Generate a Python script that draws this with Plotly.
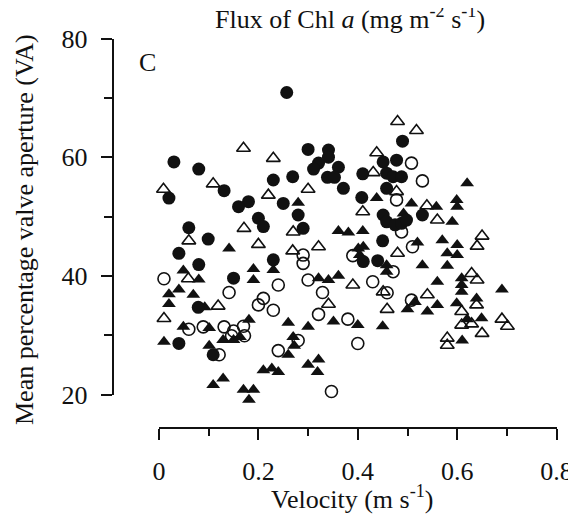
"""Mean valve aperture against velocity, panel C (flux of Chl a)."""
import plotly.graph_objects as go

FONT = 'Liberation Serif'
INK = '#111111'

# filled circles
filled_circle_x = [0.257, 0.030, 0.080, 0.230, 0.020, 0.131, 0.180, 0.160, 0.250, 0.060,
                   0.099, 0.200, 0.210, 0.040, 0.080, 0.230, 0.150, 0.079, 0.040, 0.109,
                   0.490, 0.300, 0.341, 0.341, 0.321, 0.311, 0.361, 0.339, 0.353, 0.371,
                   0.269, 0.451, 0.478, 0.410, 0.458, 0.471, 0.488, 0.458, 0.408, 0.280,
                   0.290, 0.451, 0.458, 0.475, 0.488, 0.498, 0.450, 0.530, 0.411, 0.440]
filled_circle_y = [70.9, 59.2, 58.0, 56.15, 53.1, 54.35, 52.5, 51.65, 52.2, 48.1,
                   46.2, 49.7, 48.3, 43.8, 41.9, 42.7, 39.6, 34.7, 28.6, 26.7,
                   62.7, 61.3, 61.2, 60.0, 59.0, 58.0, 58.3, 56.6, 56.6, 54.75,
                   56.7, 59.2, 59.5, 57.2, 57.3, 56.7, 56.7, 54.75, 53.2, 50.25,
                   48.0, 50.25, 49.1, 48.6, 48.85, 49.4, 45.9, 50.25, 42.4, 42.55]

# open circles
open_circle_x = [0.010, 0.141, 0.240, 0.210, 0.200, 0.230, 0.060, 0.089, 0.131, 0.150,
                 0.170, 0.146, 0.172, 0.121, 0.240, 0.347, 0.508, 0.530, 0.478, 0.488,
                 0.290, 0.290, 0.390, 0.510, 0.471, 0.300, 0.430, 0.329, 0.459, 0.508,
                 0.321, 0.380, 0.400, 0.280]
open_circle_y = [39.5, 37.2, 38.45, 36.2, 35.1, 34.2, 31.0, 31.4, 31.4, 30.7,
                 31.5, 29.9, 29.9, 26.7, 27.4, 20.5, 59.0, 56.0, 52.8, 47.4,
                 43.5, 42.1, 43.4, 44.9, 40.7, 39.3, 39.0, 37.2, 37.15, 35.9,
                 33.5, 32.7, 28.6, 29.1]

# open triangles
open_triangle_x = [0.170, 0.230, 0.009, 0.109, 0.220, 0.060, 0.171, 0.200, 0.059, 0.119,
                   0.010, 0.480, 0.518, 0.300, 0.438, 0.431, 0.478, 0.410, 0.270, 0.269,
                   0.321, 0.480, 0.390, 0.451, 0.459, 0.341, 0.539, 0.560, 0.650, 0.640,
                   0.629, 0.640, 0.540, 0.639, 0.609, 0.609, 0.629, 0.690, 0.701, 0.650,
                   0.580, 0.580]
open_triangle_y = [61.5, 59.8, 54.6, 55.5, 53.6, 45.9, 48.0, 45.3, 39.5, 34.9,
                   32.8, 66.0, 64.5, 54.6, 60.75, 57.4, 54.2, 50.8, 47.4, 44.2,
                   44.9, 43.8, 38.45, 37.3, 34.35, 35.2, 51.8, 49.4, 46.7, 45.0,
                   40.4, 39.3, 36.8, 35.1, 34.0, 31.7, 31.9, 32.7, 31.5, 30.3,
                   29.5, 28.3]

# filled triangles
filled_triangle_x = [0.141, 0.230, 0.190, 0.190, 0.049, 0.080, 0.040, 0.020, 0.069, 0.020,
                     0.092, 0.049, 0.101, 0.181, 0.129, 0.150, 0.163, 0.010, 0.101, 0.210,
                     0.227, 0.240, 0.109, 0.129, 0.170, 0.190, 0.181, 0.280, 0.438, 0.508,
                     0.361, 0.381, 0.410, 0.492, 0.401, 0.411, 0.404, 0.458, 0.458, 0.321,
                     0.341, 0.361, 0.515, 0.500, 0.260, 0.300, 0.351, 0.400, 0.450, 0.270,
                     0.272, 0.260, 0.321, 0.300, 0.319, 0.620, 0.558, 0.599, 0.600, 0.590,
                     0.520, 0.570, 0.600, 0.580, 0.600, 0.530, 0.580, 0.609, 0.609, 0.609,
                     0.560, 0.690, 0.560, 0.540, 0.599, 0.639, 0.620, 0.649, 0.610]
filled_triangle_y = [44.6, 41.0, 41.15, 39.3, 40.9, 39.4, 37.7, 36.9, 36.8, 35.25,
                     34.7, 31.4, 31.2, 32.6, 29.2, 29.2, 29.7, 28.9, 28.2, 24.1,
                     24.4, 23.8, 21.6, 22.7, 20.8, 20.8, 19.1, 52.3, 53.1, 52.2,
                     47.55, 47.3, 47.55, 50.5, 44.6, 44.9, 43.5, 41.8, 40.7, 39.6,
                     39.3, 40.0, 35.6, 34.35, 32.1, 31.4, 32.3, 31.7, 31.5, 29.7,
                     28.2, 26.7, 25.9, 25.0, 23.8, 55.6, 51.65, 52.8, 51.65, 49.1,
                     45.6, 46.0, 45.2, 43.8, 43.5, 41.8, 41.7, 39.6, 38.45, 37.3,
                     39.0, 37.7, 35.1, 34.0, 35.4, 36.2, 32.7, 32.85, 29.1]

x_tick_values = [0, 0.2, 0.4, 0.6, 0.8]
x_tick_labels = ['0', '0.2', '0.4', '0.6', '0.8']
y_tick_values = [20, 40, 60, 80]

W, H = 576, 514
OFF = 8  # the page body margin pushes the figure 8px right and down

# pixel layout of the reference frame
Y_TOP_PX, Y_BOTTOM_PX = 38.5, 394.5  # where 80 and 20 sit
X_AXIS_PX = 426.7                    # detached x axis line
Y_MIN, Y_MAX = 20, 80


def px_x(p):
    return (p - OFF) / W


def px_y(p):
    return 1 - (p - OFF) / H


# the data y axis runs down to the detached x axis, so its lower limit sits below 20
px_per_unit = (Y_BOTTOM_PX - Y_TOP_PX) / (Y_MAX - Y_MIN)
data_y_floor = Y_MIN - (X_AXIS_PX - Y_BOTTOM_PX) / px_per_unit

fig = go.Figure()

fig.add_trace(go.Scatter(
    x=open_circle_x, y=open_circle_y, mode='markers', cliponaxis=False,
    marker=dict(symbol='circle-open', size=12, color=INK, line=dict(width=1.6, color=INK)),
))
fig.add_trace(go.Scatter(
    x=open_triangle_x, y=open_triangle_y, mode='markers', cliponaxis=False,
    marker=dict(symbol='triangle-up-open', size=12, color=INK, line=dict(width=1.6, color=INK)),
))
fig.add_trace(go.Scatter(
    x=filled_triangle_x, y=filled_triangle_y, mode='markers', cliponaxis=False,
    marker=dict(symbol='triangle-up', size=12, color=INK, line=dict(width=0)),
))
fig.add_trace(go.Scatter(
    x=filled_circle_x, y=filled_circle_y, mode='markers', cliponaxis=False,
    marker=dict(symbol='circle', size=13, color=INK, line=dict(width=0)),
))
# empty trace so the visible (shorter) y axis gets its own subplot
fig.add_trace(go.Scatter(x=[], y=[], xaxis='x', yaxis='y2', mode='markers', hoverinfo='skip'))

axis_common = dict(
    automargin=False,
    showgrid=False,
    zeroline=False,
    showline=True,
    linecolor=INK,
    linewidth=1.8,
    ticks='outside',
    ticklen=11,
    tickwidth=1.5,
    tickcolor=INK,
)

fig.update_layout(
    width=W,
    height=H,
    margin=dict(l=0, r=0, t=0, b=0, pad=0),
    plot_bgcolor='rgba(0,0,0,0)',
    paper_bgcolor='white',
    showlegend=False,
    font=dict(family=FONT, size=26, color=INK),
    xaxis=dict(
        domain=[px_x(159), px_x(556.6)],
        range=[0, 0.8],
        anchor='y',
        tickvals=x_tick_values,
        ticktext=x_tick_labels,
        ticklabelstandoff=9,
        minor=dict(ticks='outside', ticklen=7, tickwidth=1.5, tickcolor=INK, dtick=0.1, showgrid=False),
        **axis_common,
    ),
    # data axis: hidden, spans down to the x axis line
    yaxis=dict(
        domain=[px_y(X_AXIS_PX), px_y(Y_TOP_PX)],
        range=[data_y_floor, Y_MAX],
        anchor='x',
        visible=False,
        automargin=False,
    ),
    # visible y axis, same scale, stops at 20
    yaxis2=dict(
        domain=[px_y(Y_BOTTOM_PX), px_y(Y_TOP_PX)],
        range=[Y_MIN, Y_MAX],
        anchor='free',
        position=px_x(112.5),
        tickvals=y_tick_values,
        ticklabelstandoff=8,
        minor=dict(ticks='outside', ticklen=8, tickwidth=1.5, tickcolor=INK, dtick=10, showgrid=False),
        **axis_common,
    ),
    annotations=[
        dict(text='Flux of Chl <i>a</i> (mg m<sup>-2</sup> s<sup>-1</sup>)', x=px_x(350), y=px_y(17),
             xref='paper', yref='paper', showarrow=False, xanchor='center', yanchor='middle'),
        dict(text='C', x=px_x(147.5), y=px_y(63), xref='paper', yref='paper', showarrow=False,
             xanchor='center', yanchor='middle'),
        dict(text='Velocity (m s<sup>-1</sup>)', x=px_x(352), y=px_y(497), xref='paper', yref='paper',
             showarrow=False, xanchor='center', yanchor='middle'),
        dict(text='Mean percentage valve aperture (VA)', x=px_x(24), y=px_y(230), xref='paper', yref='paper',
             showarrow=False, textangle=-90, xanchor='center', yanchor='middle'),
    ],
)

fig.write_html('out.html')
